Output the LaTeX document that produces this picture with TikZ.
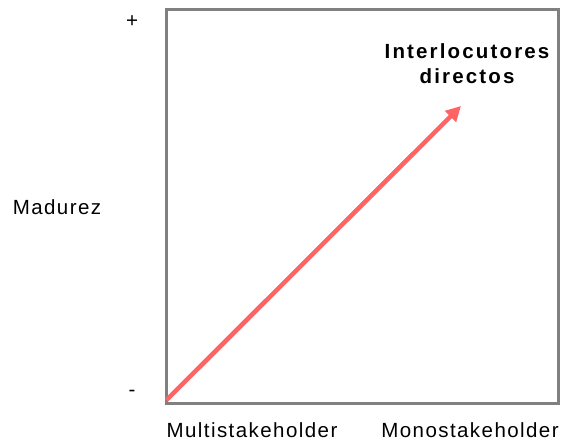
\documentclass[tikz,border=0pt]{standalone}
\usepackage{fontspec}
\setmainfont{Liberation Sans}[LetterSpace=7]
\newfontfamily\titlefont{Liberation Sans}[LetterSpace=10.5]
\usetikzlibrary{arrows.meta}
\definecolor{boxgray}{RGB}{128,128,128}
\definecolor{arrowred}{RGB}{255,99,99}
\begin{document}
\begin{tikzpicture}[x=1pt,y=-1pt,
  lbl/.style={inner sep=0pt,anchor=base,font=\fontsize{20.5}{24}\selectfont},
  title/.style={inner sep=0pt,anchor=base,font=\fontsize{20.5}{24}\selectfont\titlefont\bfseries},
  frame/.style={draw=boxgray,line width=3pt},
  arr/.style={draw=arrowred,line width=4.5pt,-{Triangle[length=15pt,width=15pt]}}]
\useasboundingbox (0,0) rectangle (564,445);
\node[frame,minimum width=392pt,minimum height=394pt,inner sep=0pt,anchor=north west] (box) at (165,7.5) {};
\coordinate (start) at (166.5,400);
\coordinate (tip) at (461,106);
\draw[arr] (start) -- (tip);
\node[title] (t1) at (467,58) {Interlocutores};
\node[title] (t2) at (467,83) {directos};
\node[lbl] (multi) at (252,437) {Multistakeholder};
\node[lbl] (mono) at (470,437) {Monostakeholder};
\node[lbl] (mad) at (57,214) {Madurez};
\node[lbl,anchor=center] (plus) at (132,22) {+};
\node[lbl,anchor=center] (minus) at (132,393) {-};
\end{tikzpicture}
\end{document}
